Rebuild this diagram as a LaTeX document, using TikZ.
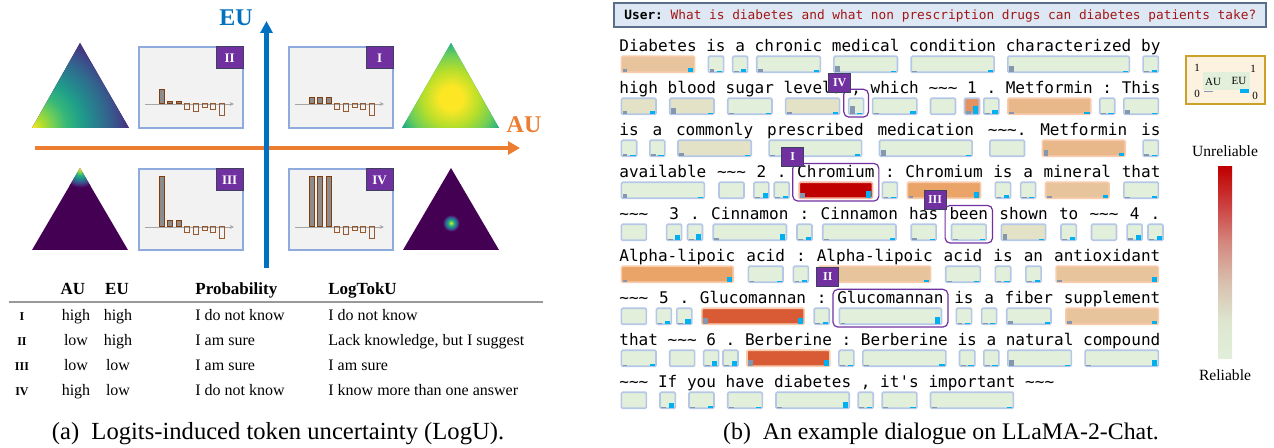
\documentclass[tikz,border=0pt]{standalone}
\usepackage{fontspec}
\setmainfont{Liberation Serif}
\setmonofont{DejaVu Sans Mono}
\usepackage{tikz}
\usetikzlibrary{arrows.meta,positioning,fit,calc}

% axes, panels, badges
\definecolor{axisblue}{HTML}{0070C0}
\definecolor{axisorange}{HTML}{ED7D31}
\definecolor{panelfill}{HTML}{F2F2F2}
\definecolor{paneledge}{HTML}{8FAADC}
\definecolor{badgepurple}{HTML}{7030A0}
\definecolor{badgeedge}{HTML}{3F3F5F}
\definecolor{barbrown}{HTML}{843C0C}
% viridis
\definecolor{v0}{HTML}{440154}
\definecolor{v1}{HTML}{482878}
\definecolor{v2}{HTML}{3E4989}
\definecolor{v3}{HTML}{31688E}
\definecolor{v4}{HTML}{26828E}
\definecolor{v5}{HTML}{1F9E89}
\definecolor{v6}{HTML}{35B779}
\definecolor{v7}{HTML}{6ECE58}
\definecolor{v8}{HTML}{B5DE2B}
\definecolor{v9}{HTML}{FDE725}
% token boxes
\definecolor{cg}{HTML}{E2EFDA}
\definecolor{cb}{HTML}{E4E2C6}
\definecolor{ct}{HTML}{E8C49C}
\definecolor{ca}{HTML}{E8B88B}
\definecolor{co}{HTML}{EBA468}
\definecolor{cn}{HTML}{E4925F}
\definecolor{cr}{HTML}{D95B35}
\definecolor{cd}{HTML}{C00000}
\definecolor{cgline}{HTML}{B4C7E7}
\colorlet{cbline}{cgline}
\colorlet{cnline}{cgline}
\definecolor{ctline}{HTML}{F8CBAD}
\colorlet{caline}{ctline}
\colorlet{coline}{ctline}
\colorlet{crline}{ctline}
\definecolor{cdline}{HTML}{F4B6A0}
\definecolor{aucol}{HTML}{8497B0}
\definecolor{eucol}{HTML}{00B0F0}
\definecolor{userfill}{HTML}{DDE8F4}
\definecolor{userline}{HTML}{596E8A}
\definecolor{askred}{HTML}{A31515}
\definecolor{keygold}{HTML}{C9A227}
\definecolor{keyfill}{HTML}{FDF2E0}
% reliability scale
\definecolor{s0}{HTML}{E2EFDA}
\definecolor{s1}{HTML}{DDE5CF}
\definecolor{s2}{HTML}{D8BFAE}
\definecolor{s3}{HTML}{D48A80}
\definecolor{s4}{HTML}{CC4040}
\definecolor{s5}{HTML}{C00000}

% the path's box takes the middle 50bp of a shading
\pgfdeclareradialshading{simplexpeak}{\pgfpoint{0bp}{0bp}}{color(0bp)=(v9); color(2bp)=(v8); color(4.5bp)=(v7); color(7bp)=(v6); color(10bp)=(v5); color(12.5bp)=(v4); color(15bp)=(v3); color(17.5bp)=(v2); color(20bp)=(v1); color(23bp)=(v0); color(50bp)=(v0)}
\pgfdeclareradialshading{simplexflat}{\pgfpoint{0bp}{0bp}}{color(0bp)=(v9); color(5bp)=(v9); color(12.5bp)=(v8); color(19bp)=(v7); color(23bp)=(v6); color(25bp)=(v5); color(50bp)=(v5)}
\pgfdeclareverticalshading{relscale}{100bp}{color(0bp)=(s0); color(25bp)=(s0); color(35bp)=(s1); color(45bp)=(s2); color(55bp)=(s3); color(65bp)=(s4); color(75bp)=(s5); color(100bp)=(s5)}

\newcommand{\tokfont}{\ttfamily\fontsize{8.02}{9}\selectfont}
\newcommand{\askfont}{\ttfamily\fontsize{6.4}{7}\selectfont}
\newcommand{\cellfont}{\fontsize{8}{9.6}\selectfont}
\newcommand{\tilds}{\char"7E\char"7E\char"7E}

\tikzset{
    panel/.style={draw=paneledge, fill=panelfill, line width=0.6pt, minimum width=52pt, minimum height=40.5pt, inner sep=0pt},
    badge/.style={draw=badgeedge, fill=badgepurple, text=white, line width=0.5pt, inner sep=0pt, minimum width=13.5pt, minimum height=11pt, font=\bfseries\fontsize{6.5}{7}\selectfont},
    tokbadge/.style={badge, minimum width=11pt, minimum height=9.5pt, font=\bfseries\fontsize{6}{7}\selectfont},
    posbar/.style={draw=barbrown, fill=black!45, line width=0.5pt},
    negbar/.style={draw=barbrown!85, line width=0.5pt},
    logaxis/.style={-{Stealth[length=2.2pt,width=2pt]}, draw=black!35, line width=0.4pt},
    eu axis/.style={-{Triangle[length=6pt,width=6pt]}, draw=axisblue, line width=2.4pt},
    au axis/.style={-{Triangle[length=6pt,width=6.5pt]}, draw=axisorange, line width=2pt},
    axislabel/.style={anchor=base, inner sep=0pt, font=\bfseries\fontsize{12}{14}\selectfont},
    headcell/.style={anchor=base, inner sep=0pt, font=\bfseries\fontsize{8.5}{10}\selectfont},
    cell/.style={anchor=base, inner sep=0pt, font=\cellfont},
    casetag/.style={anchor=base, inner sep=0pt, font=\bfseries\fontsize{6}{7}\selectfont},
    tablerule/.style={draw=black!40, line width=0.7pt},
    subcap/.style={anchor=base, inner sep=0pt, font=\fontsize{12.3}{14}\selectfont},
    userbox/.style={draw=userline, fill=userfill, line width=0.8pt, minimum width=326pt, minimum height=12pt, inner sep=0pt},
    tokword/.style={anchor=base west, inner sep=0pt, font=\tokfont},
    tokbox/.style={inner xsep=-1pt, inner ysep=0pt, minimum width=7.5pt, minimum height=8pt, text height=0pt, text depth=0pt, line width=0.8pt, rounded corners=0.6pt, font=\tokfont},
    tok/.style={fill=#1, draw=#1line},
    callout/.style={draw=badgepurple, line width=0.6pt, rounded corners=2.5pt, inner xsep=2pt, inner ysep=1pt},
    keybox/.style={draw=keygold, fill=keyfill, line width=0.8pt, minimum width=39.5pt, minimum height=24pt, inner sep=0pt},
    keytext/.style={anchor=base, inner sep=0pt, font=\fontsize{5.5}{6}\selectfont},
    scalelabel/.style={inner sep=0pt, font=\fontsize{7.8}{9}\selectfont}
}

% logits of one case: axis, three top logits, five negative ones
\newcommand{\logitbars}[3]{%
  \draw[logaxis] (#1+6,#2) -- (#1+95,#2);
  \foreach \h [count=\k from 0] in {#3}
    \filldraw[posbar] ({#1+20+8.6*\k},#2) rectangle ++(5,-\h);
  \foreach \h [count=\k from 3] in {6,7.5,4,6,12}
    \draw[negbar] ({#1+20+8.6*\k},#2) rectangle ++(5,\h);
}

% one line of the answer: x / word / colour / AU / EU
\newcommand{\tokenline}[3]{%
  \foreach \tx/\tw/\tf/\ta/\te [count=\i] in {#3} {
    \node[tokword] (w-#1-\i) at (\tx,#2) {\tw};
    \node[tokbox, tok=\tf, below=1.75pt of w-#1-\i.base] (b-#1-\i) {\hphantom{\tw}};
    \ifnum\ta>0 \fill[aucol] ([xshift=1pt,yshift=0.75pt]b-#1-\i.south west) rectangle ++(2.4pt,\ta*0.5pt);\fi
    \ifnum\te>0 \fill[eucol] ([xshift=-1pt,yshift=0.75pt]b-#1-\i.south east) rectangle ++(-2.6pt,\te*0.5pt);\fi
  }%
}

\begin{document}
\begin{tikzpicture}[x=0.5pt, y=-0.5pt]
\useasboundingbox (0,0) rectangle (1274,448);

% (a) simplexes
\begin{scope}
  \clip (32,128) -- (80,43) -- (129,128) -- cycle;
  \fill[v0] (30,40) rectangle (131,130);
  \shade[shading=simplexpeak] (32,128) circle (62pt);
\end{scope}
\begin{scope}
  \clip (402,128) -- (451,43) -- (499,128) -- cycle;
  \fill[v5] (400,40) rectangle (501,130);
  \shade[shading=simplexflat] (451,98) circle (28.5pt);
\end{scope}
\begin{scope}
  \clip (32,250) -- (80,168) -- (128,250) -- cycle;
  \fill[v0] (30,165) rectangle (130,252);
  \shade[shading=simplexpeak] (80,169) circle (10pt);
\end{scope}
\begin{scope}
  \clip (403,250) -- (451,168) -- (499,250) -- cycle;
  \fill[v0] (400,165) rectangle (501,252);
  \shade[shading=simplexpeak] (451,223) circle (4.5pt);
\end{scope}

% (a) logit panels
\node[panel] (p-two) at (191,87.5) {};
\node[panel] (p-one) at (341,87.5) {};
\node[panel] (p-three) at (191,209.5) {};
\node[panel] (p-four) at (341,209.5) {};
\logitbars{139}{104}{14,2,2}
\logitbars{289}{104}{6,6,6}
\logitbars{139}{227}{50,6,6}
\logitbars{289}{227}{50,50,50}
\node[badge, anchor=north east] (t-two) at (p-two.north east) {II};
\node[badge, anchor=north east] (t-one) at (p-one.north east) {I};
\node[badge, anchor=north east] (t-three) at (p-three.north east) {III};
\node[badge, anchor=north east] (t-four) at (p-four.north east) {IV};

% (a) AU and EU axes
\coordinate (au-foot) at (35,148);
\coordinate (au-head) at (520,148);
\coordinate (eu-foot) at (266.5,268);
\coordinate (eu-head) at (266.5,21);
\draw[au axis] (au-foot) -- (au-head);
\draw[eu axis] (eu-foot) -- (eu-head);
\node[axislabel, text=axisblue] (eu-name) at (236,26) {EU};
\node[axislabel, text=axisorange] (au-name) at (524,133) {AU};

% (a) table
\node[headcell] (h-au) at (73,295) {AU};
\node[headcell] (h-eu) at (117,295) {EU};
\node[headcell, anchor=base west] (h-prob) at (195,295) {Probability};
\node[headcell, anchor=base west] (h-tok) at (328,295) {LogTokU};
\draw[tablerule] (9,302) -- (543,302);
\foreach \rn/\ra/\re/\rp/\rl [count=\i] in {I/high/high/I do not know/I do not know, II/low/high/I am sure/{Lack knowledge, but I suggest}, III/low/low/I am sure/I am sure, IV/high/low/I do not know/I know more than one answer} {
  \node[casetag] (case-\i) at (22,296+25*\i) {\rn};
  \node[cell] (au-\i) at (76,296+25*\i) {\ra};
  \node[cell] (eu-\i) at (118,296+25*\i) {\re};
  \node[cell, anchor=base west] (pr-\i) at (195,296+25*\i) {\rp};
  \node[cell, anchor=base west] (lt-\i) at (328,296+25*\i) {\rl};
}
\node[subcap] (cap-a) at (278,439) {(a)\hspace{0.5em}Logits-induced token uncertainty (LogU).};

% (b) question
\node[userbox] (user) at (940,15) {};
\node[anchor=base west, inner sep=0pt, font=\askfont] (ask) at (624,19.5) {\textbf{User:} \textcolor{askred}{What is diabetes and what non prescription drugs can diabetes patients take?}};

% (b) answer, one token box per word
\tokenline{1}{52}{619.0/Diabetes/ct/3/4, 705.9/is/cg/3/1, 734.9/a/cg/1/3, 754.3/chronic/cg/3/2, 831.5/medical/cg/6/1, 908.8/condition/cg/1/2, 1005.4/characterized/cg/6/1, 1140.7/by/cg/1/2}
\tokenline{2}{94}{619.0/high/cb/3/3, 667.3/blood/cb/6/1, 725.3/sugar/cg/1/1, 783.2/levels/cb/2/2, 850.9/{,}/cg/8/1, 870.2/which/cg/1/3, 928.1/\tilds/cg/0/0, 966.8/1/cn/3/8, 986.1/./cg/1/4, 1005.4/Metformin/ca/2/2, 1102.0/:/cg/1/1, 1121.4/This/cg/4/1}
\tokenline{3}{136}{619.0/is/cg/2/1, 652.1/a/cg/2/1, 675.6/commonly/cb/3/1, 766.7/prescribed/cg/1/2, 877.1/medication/cg/6/1, 987.5/\tilds./cg/0/0, 1039.9/Metformin/ca/6/3, 1140.7/is/cg/2/1}
\tokenline{4}{178}{619.0/available/cg/4/1, 716.6/\tilds/cg/0/0, 756.2/2/cg/1/5, 776.5/./cg/1/2, 796.8/Chromium/cd/5/7, 884.7/:/cg/1/1, 905.0/Chromium/co/2/6, 992.9/is/cg/1/3, 1022.9/a/cg/1/1, 1043.1/mineral/ct/2/3, 1121.4/that/cg/1/2}
\tokenline{5}{220}{619.0/\tilds/cg/0/0, 668.9/3/cg/1/5, 689.8/./cg/1/6, 710.8/Cinnamon/cg/2/6, 799.3/:/cg/1/3, 820.3/Cinnamon/cg/1/2, 908.8/has/cg/2/1, 949.1/been/cg/1/1, 999.0/shown/cb/6/1, 1058.6/to/cg/1/3, 1089.1/\tilds/cg/0/0, 1129.4/4/cg/2/5, 1150.3/./cg/1/4}
\tokenline{6}{262}{619.0/Alpha-lipoic/co/2/5, 746.0/acid/cg/1/1, 795.7/:/cg/1/2, 816.4/Alpha-lipoic/ct/0/2, 943.3/acid/cg/1/1, 993.0/is/cg/1/1, 1023.4/an/cg/1/2, 1053.7/antioxidant/ct/2/5}
\tokenline{7}{304}{619.0/\tilds/cg/0/0, 658.7/5/cg/1/3, 679.1/./cg/1/5, 699.5/Glucomannan/cr/6/6, 816.5/:/cg/1/2, 836.9/Glucomannan/cg/1/7, 953.9/is/cg/1/1, 983.9/a/cg/1/1, 1004.3/fiber/cg/3/2, 1063.4/supplement/ct/3/3}
\tokenline{8}{346}{619.0/that/cg/1/2, 667.3/\tilds/cg/0/0, 705.9/6/cg/1/5, 725.3/./cg/1/5, 744.6/Berberine/cr/6/6, 841.2/:/cg/1/1, 860.5/Berberine/cg/1/2, 957.1/is/cg/1/1, 986.1/a/cg/1/1, 1005.4/natural/cg/6/1, 1082.7/compound/cg/1/6}
\tokenline{9}{388}{619.0/\tilds/cg/0/0, 657.6/If/cg/1/5, 686.6/you/cg/1/2, 725.3/have/cg/1/1, 773.6/diabetes/cg/1/6, 860.5/{,}/cg/1/1, 879.8/it's/cg/1/1, 928.1/important/cg/1/1}
\node[tokword] (w-9-end) at (1024.8,388) {\tilds};

% (b) the four cases in the answer
\node[callout, fit=(w-2-5) (b-2-5)] (c-iv) {};
\node[callout, fit=(w-4-5) (b-4-5)] (c-i) {};
\node[callout, fit=(w-5-8) (b-5-8)] (c-iii) {};
\node[callout, fit=(w-7-6) (b-7-6)] (c-ii) {};
\node[tokbadge, anchor=south east] (tag-iv) at ([xshift=4pt,yshift=-2pt]c-iv.north west) {IV};
\node[tokbadge, anchor=south east] (tag-i) at ([xshift=6pt,yshift=-2pt]c-i.north west) {I};
\node[tokbadge, anchor=south east] (tag-iii) at ([xshift=1pt,yshift=-2.5pt]c-iii.north west) {III};
\node[tokbadge, anchor=south east] (tag-ii) at ([xshift=3.5pt,yshift=1pt]c-ii.north west) {II};

% (b) key of the token box
\node[keybox] (key) at (1225.5,80) {};
\node[fill=cg, minimum width=23.5pt, minimum height=9pt, inner sep=0pt] (key-field) at (1226.5,81) {};
\node[keytext] (key-au-top) at (1197,72) {1};
\node[keytext] (key-eu-top) at (1253,73) {1};
\node[keytext] (key-au-low) at (1197,98) {0};
\node[keytext] (key-eu-low) at (1255,100) {0};
\node[keytext] (key-au) at (1213,86) {AU};
\node[keytext] (key-eu) at (1239,85) {EU};
\fill[aucol] (1204,91.5) rectangle (1213,92.5);
\fill[eucol] (1240,89) rectangle (1249,93);

% (b) reliability scale
\node[shading=relscale, shade, minimum width=7pt, minimum height=96pt, inner sep=0pt] (scale) at (1225,263) {};
\node[scalelabel, above=5pt of scale] (unrel) {Unreliable};
\node[scalelabel, below=5pt of scale] (rel) {Reliable};

\node[subcap, font=\fontsize{11.9}{14}\selectfont] (cap-b) at (941,439) {(b)\hspace{0.5em}An example dialogue on LLaMA-2-Chat.};
\end{tikzpicture}
\end{document}
